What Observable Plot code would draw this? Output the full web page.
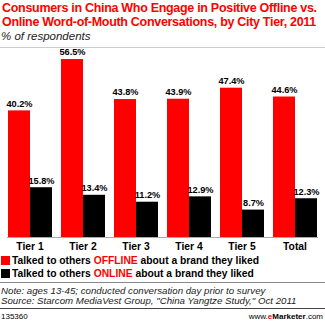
<!DOCTYPE html>
<html><head><meta charset="utf-8">
<script src="https://cdn.jsdelivr.net/npm/d3@7"></script>
<script src="https://cdn.jsdelivr.net/npm/@observablehq/plot@0.6"></script>
<style>
html,body{margin:0;padding:0;background:#fff}
body{width:325px;height:322px;overflow:hidden;position:relative;font-family:"Liberation Sans",Arial,sans-serif;color:#000}
.abs{position:absolute;white-space:nowrap}
#title{left:2px;top:1px;font-weight:bold;font-size:12.5px;letter-spacing:-0.3px;line-height:14px;color:#ff0000}
#sub{left:1px;top:30px;font-style:italic;font-size:11.5px;color:#222}
.hl{position:absolute;left:0;width:325px;height:0}
#chart{left:0;top:48px}
.leg{left:1px;font-weight:bold;font-size:10.3px;line-height:12px}
.sw{display:inline-block;width:9px;height:9px;vertical-align:-1px;margin-right:2px}
.red{color:#ff0000}
.note{left:1px;font-style:italic;font-size:9.7px;line-height:10px;color:#222}
#id{left:1px;top:312px;font-size:8px}
#brand{right:2px;top:312px;font-size:8px}
</style></head>
<body>
<div id="title" class="abs"></div>
<div id="sub" class="abs"></div>
<div class="hl" style="top:47px;border-top:1px solid #ccc"></div>
<div id="chart" class="abs"></div>
<div id="leg1" class="abs leg" style="top:255px"></div>
<div id="leg2" class="abs leg" style="top:268px"></div>
<div class="hl" style="top:282px;border-top:1px solid #888"></div>
<div id="note1" class="abs note" style="top:286px"></div>
<div id="note2" class="abs note" style="top:296px"></div>
<div class="hl" style="top:308px;border-top:1px solid #444"></div>
<div id="id" class="abs"></div>
<div id="brand" class="abs"></div>
<script>
const titleLines = ["Consumers in China Who Engage in Positive Offline vs.", "Online Word-of-Mouth Conversations, by City Tier, 2011"];
const subtitle = "% of respondents";
const tiers = ["Tier 1", "Tier 2", "Tier 3", "Tier 4", "Tier 5", "Total"];
const seriesKeys = ["OFFLINE", "ONLINE"];
const seriesColors = ["#ff0000", "#000000"];
const offline = [40.2, 56.5, 43.8, 43.9, 47.4, 44.6];
const online = [15.8, 13.4, 11.2, 12.9, 8.7, 12.3];
const legendPrefix = "Talked to others ";
const legendSuffix = " about a brand they liked";
const notes = ["Note: ages 13-45; conducted conversation day prior to survey", "Source: Starcom MediaVest Group, \"China Yangtze Study,\" Oct 2011"];
const chartId = "135360";

document.getElementById("title").innerHTML = titleLines.join("<br>");
document.getElementById("sub").textContent = subtitle;
seriesKeys.forEach((k, i) => {
  const el = document.getElementById("leg" + (i + 1));
  el.innerHTML = `<span class="sw" style="background:${seriesColors[i]}"></span>${legendPrefix}<span class="red">${k}</span>${legendSuffix}`;
});
document.getElementById("note1").textContent = notes[0];
document.getElementById("note2").textContent = notes[1];
document.getElementById("id").textContent = chartId;
document.getElementById("brand").innerHTML = 'www.<b><span class="red">e</span>Marketer</b>.com';

const data = tiers.flatMap((t, i) => [
  {tier: t, series: seriesKeys[0], value: offline[i]},
  {tier: t, series: seriesKeys[1], value: online[i]}
]);

const chart = Plot.plot({
  width: 325,
  height: 205,
  marginTop: 0,
  marginBottom: 16,
  marginLeft: 6,
  marginRight: 7,
  style: {fontFamily: "'Liberation Sans', Arial, sans-serif", background: "#fff", color: "#000"},
  fx: {domain: tiers, paddingInner: 0.15, paddingOuter: 0, label: null},
  x: {domain: seriesKeys, padding: 0, axis: null},
  y: {domain: [0, 60], axis: null},
  color: {domain: seriesKeys, range: seriesColors},
  marks: [
    Plot.barY(data, {fx: "tier", x: "series", y: "value", fill: "series"}),
    Plot.text(data, {fx: "tier", x: "series", y: "value", text: d => d.value.toFixed(1) + "%", dy: -7, fontSize: 9.2, fontWeight: "bold", fill: "#000"}),
    Plot.frame({anchor: "bottom", stroke: "#aaa", facet: "super"}),
    Plot.axisFx({anchor: "bottom", tickSize: 0, tickPadding: 5, fontSize: 10.3, fontWeight: "bold", label: null, fill: "#000"})
  ]
});
document.getElementById("chart").appendChild(chart);
</script>
</body></html>
